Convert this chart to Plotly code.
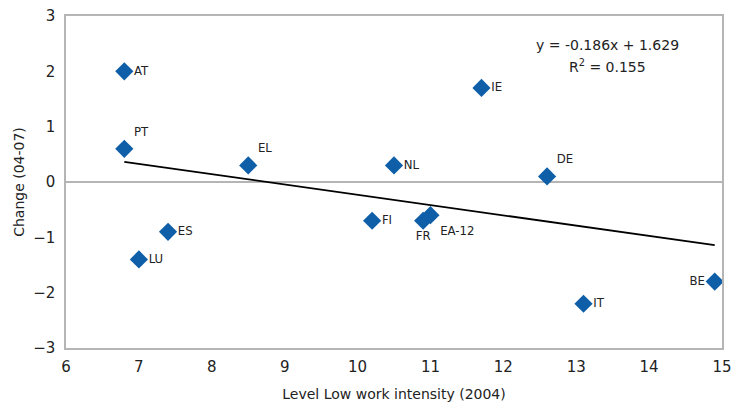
import plotly.graph_objects as go
import numpy as np

countries = ["AT", "PT", "EL", "ES", "LU", "FI", "FR", "EA-12", "NL", "IE", "DE", "IT", "BE"]
level_2004 = [6.8, 6.8, 8.5, 7.4, 7.0, 10.2, 10.9, 11.0, 10.5, 11.7, 12.6, 13.1, 14.9]
change_0407 = [2.0, 0.6, 0.3, -0.9, -1.4, -0.7, -0.7, -0.6, 0.3, 1.7, 0.1, -2.2, -1.8]
label_pos = ["middle right", "top right", "top right", "middle right", "middle right",
             "middle right", "bottom center", "bottom right", "middle right", "middle right",
             "top right", "middle right", "middle left"]
slope, intercept = -0.186, 1.629

blue = "#0F5FA8"
fig = go.Figure()

xs = np.array([min(level_2004), max(level_2004)])
fig.add_trace(go.Scatter(x=xs, y=slope * xs + intercept, mode="lines",
                         line=dict(color="black", width=1.8), hoverinfo="skip", showlegend=False))

fig.add_trace(go.Scatter(
    x=level_2004, y=change_0407, mode="markers+text", text=countries,
    textposition=label_pos,
    textfont=dict(family="DejaVu Sans Condensed, Roboto Condensed, Roboto", size=13, color="#222"),
    marker=dict(symbol="diamond", size=14, color=blue),
    showlegend=False))

fig.add_annotation(x=13.43, y=2.48, text="y = -0.186x + 1.629", showarrow=False,
                   font=dict(family="DejaVu Sans", size=14, color="#222"))
fig.add_annotation(x=13.43, y=2.09, text="R<sup>2</sup> = 0.155", showarrow=False,
                   font=dict(family="DejaVu Sans", size=14, color="#222"))

fig.update_layout(
    width=731, height=397,
    margin=dict(l=58, r=17, t=8, b=57),
    paper_bgcolor="white", plot_bgcolor="white",
    font=dict(family="DejaVu Sans", size=15, color="#222"),
)
fig.update_xaxes(range=[6, 15], dtick=1, showgrid=False, zeroline=False, automargin=False,
                 ticklabeloverflow="allow", ticklabelstandoff=4,
                 showline=True, linecolor="#B5B5B5", linewidth=1.5, mirror=True,
                 ticks="", ticklen=0,
                 title=dict(text="Level Low work intensity (2004)", font=dict(size=14), standoff=14))
fig.update_yaxes(range=[-3, 3], dtick=1, showgrid=False, zeroline=True, automargin=False,
                 ticklabeloverflow="allow", ticklabelstandoff=6,
                 zerolinecolor="#B5B5B5", zerolinewidth=1.5,
                 showline=True, linecolor="#B5B5B5", linewidth=1.5, mirror=True,
                 ticks="", ticklen=0,
                 title=dict(text="Change (04-07)", font=dict(size=14), standoff=5))

fig.write_html("out.html")
